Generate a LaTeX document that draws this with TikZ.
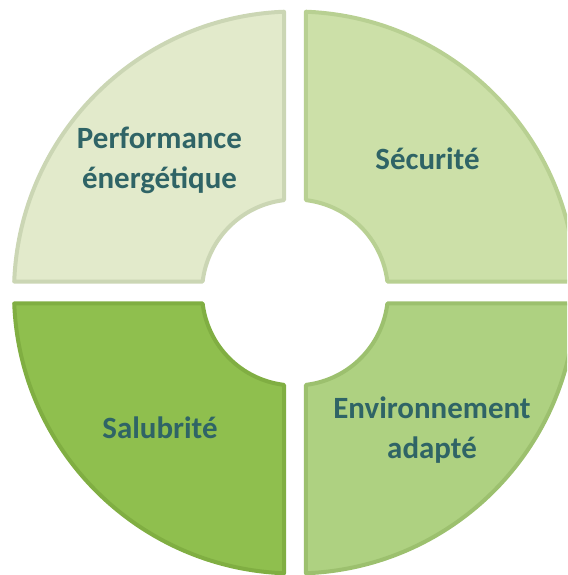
\documentclass[tikz,border=0pt]{standalone}
\usepackage{fontspec}
\setmainfont{Carlito}
\usepackage{tikz}
\usetikzlibrary{arrows,shapes}
\definecolor{perfFill}{RGB}{226,234,203}
\definecolor{perfLine}{RGB}{203,214,180}
\definecolor{secuFill}{RGB}{204,224,168}
\definecolor{secuLine}{RGB}{184,208,146}
\definecolor{saluFill}{RGB}{143,191,78}
\definecolor{saluLine}{RGB}{128,174,66}
\definecolor{enviFill}{RGB}{174,209,129}
\definecolor{enviLine}{RGB}{156,192,110}
\definecolor{textTeal}{RGB}{47,100,102}
\tikzstyle{quadrant}=[line width=0.08cm,line join=round]
\tikzstyle{quadtext}=[align=center,text=textTeal,font=\bfseries\fontsize{17.6}{22.8}\selectfont]

\begin{document}
\begin{tikzpicture}
    \useasboundingbox (-5.90,-5.65) rectangle (5.44,5.85);
    \clip (-5.90,-5.65) rectangle (5.44,5.85);
    % radii and half gap
    \pgfmathsetmacro{\ro}{5.62}
    \pgfmathsetmacro{\ri}{1.86}
    \pgfmathsetmacro{\ao}{asin(0.22/\ro)}
    \pgfmathsetmacro{\ai}{asin(0.22/\ri)}
    % First we draw the four quadrants
    \foreach \rot/\name in {0/secu, 90/perf, 180/salu, 270/envi}
        \draw[quadrant, fill=\name Fill, draw=\name Line, rotate=\rot]
            (90-\ao:\ro) arc[start angle=90-\ao, end angle=\ao, radius=\ro cm]
            -- (\ai:\ri) arc[start angle=\ai, end angle=90-\ai, radius=\ri cm] -- cycle;
    % Then the labels
    \node[quadtext] (perf) at (-2.71,2.64) {Performance\\énergétique};
    \node[quadtext] (secu) at (2.65,2.68) {Sécurité};
    \node[quadtext] (salu) at (-2.70,-2.71) {Salubrité};
    \node[quadtext] (envi) at (2.74,-2.75) {Environnement\\adapté};
\end{tikzpicture}
\end{document}
